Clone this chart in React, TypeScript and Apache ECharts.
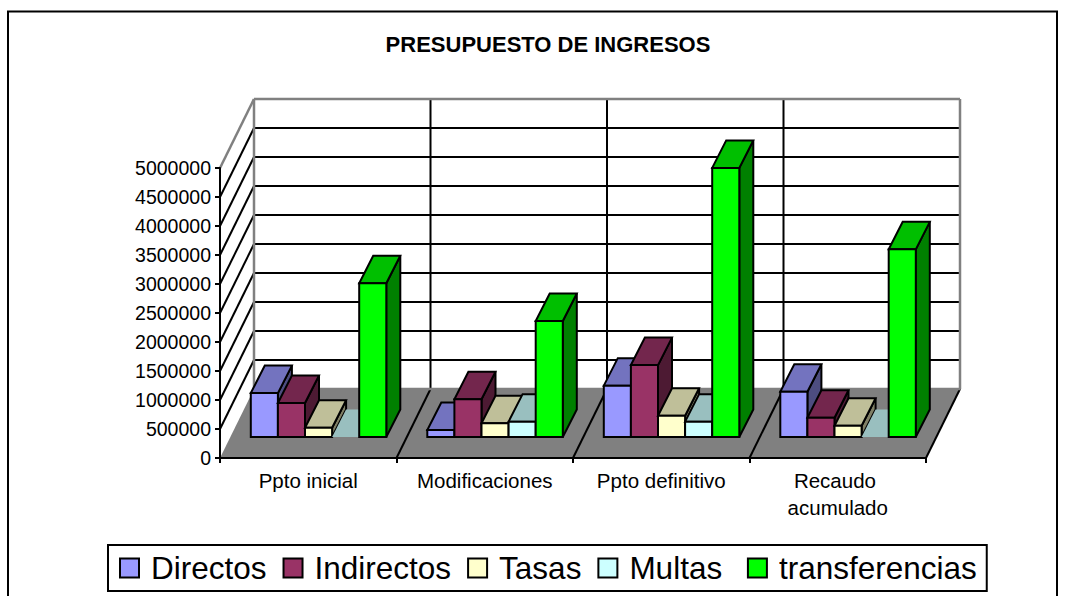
import React, { useEffect, useRef } from "react";
import * as echarts from "echarts";

const categories = ["Ppto inicial", "Modificaciones", "Ppto definitivo", "Recaudo acumulado"];
const directos = [757000, 120000, 885000, 780000];
const indirectos = [585000, 650000, 1240000, 333000];
const tasas = [160000, 235000, 367000, 195000];
const multas = [0, 265000, 265000, 0];
const transferencias = [2650000, 2000000, 4640000, 3235000];
const tickValues = [0, 500000, 1000000, 1500000, 2000000, 2500000, 3000000, 3500000, 4000000, 4500000, 5000000];

const seriesNames = ["Directos", "Indirectos", "Tasas", "Multas", "transferencias"];
const seriesValues = [directos, indirectos, tasas, multas, transferencias];
const frontColors = ["#9999FF", "#993366", "#FFFFCC", "#CCFFFF", "#00FF00"];
const topColors = ["#7373BF", "#73264D", "#BFBF99", "#99BFBF", "#00BF00"];
const sideColors = ["#4D4D80", "#4D1A33", "#808066", "#668080", "#008000"];

const WALL_DX = 34;
const WALL_DY = 69;
const FLOOR_DX = 10.3;
const FLOOR_DY = 21;
const BAR_W = 27.1;
const BAR_DX = 14;
const BAR_DY = 27.5;
const FONT = '"Liberation Sans", Arial, sans-serif';
const GRID = "#000000";
const WALL = "#808080";

function poly(points: number[][], fill: string, stroke: string | null, lineWidth = 2) {
  return {
    type: "polygon",
    shape: { points },
    style: { fill, stroke: stroke ?? "none", lineWidth, lineJoin: "miter" },
  };
}
function seg(a: number[], b: number[], stroke: string, lineWidth = 2) {
  return {
    type: "line",
    shape: { x1: a[0], y1: a[1], x2: b[0], y2: b[1] },
    style: { stroke, lineWidth },
  };
}

export default function App() {
  const ref = useRef<HTMLDivElement>(null);
  useEffect(() => {
    const chart = echarts.init(ref.current!, undefined, { renderer: "svg" });

    const wallSeries = {
      type: "custom",
      name: "walls",
      coordinateSystem: "cartesian2d",
      silent: true,
      z: 2,
      clip: false,
      data: [[0, 0]],
      renderItem: (_p: any, api: any) => {
        const band = api.size([1, 0])[0];
        const org = api.coord([0, 0]);
        const left = org[0] - band / 2;
        const base = org[1];
        const right = left + band * categories.length;
        const top = api.coord([0, tickValues[tickValues.length - 1]])[1];
        const children: any[] = [];
        children.push(
          poly(
            [[left + WALL_DX, top - WALL_DY], [right + WALL_DX, top - WALL_DY], [right + WALL_DX, base - WALL_DY], [left + WALL_DX, base - WALL_DY]],
            "#FFFFFF",
            null
          )
        );
        children.push(
          poly(
            [[left, base], [right, base], [right + WALL_DX, base - WALL_DY], [left + WALL_DX, base - WALL_DY]],
            WALL,
            null
          )
        );
        tickValues.forEach((v) => {
          const y = api.coord([0, v])[1];
          if (v > 0 && v < tickValues[tickValues.length - 1]) {
            children.push(seg([left + WALL_DX, y - WALL_DY], [right + WALL_DX, y - WALL_DY], GRID));
            children.push(seg([left, y], [left + WALL_DX, y - WALL_DY], GRID));
          }
        });
        categories.forEach((_c, i) => {
          if (i > 0) {
            const x = left + band * i;
            children.push(seg([x + WALL_DX, top - WALL_DY], [x + WALL_DX, base - WALL_DY], GRID));
          }
        });
        categories.forEach((_c, i) => {
          const x = left + band * (i + 1);
          children.push(seg([x, base], [x + WALL_DX, base - WALL_DY], GRID));
        });
        children.push(seg([left + WALL_DX, top - WALL_DY], [right + WALL_DX, top - WALL_DY], WALL, 2.5));
        children.push(seg([left, top], [left + WALL_DX, top - WALL_DY], WALL, 2.5));
        children.push(seg([left + WALL_DX, top - WALL_DY], [left + WALL_DX, base - WALL_DY], WALL, 2.5));
        children.push(seg([right + WALL_DX, top - WALL_DY], [right + WALL_DX, base - WALL_DY], WALL, 2.5));
        children.push(seg([left + WALL_DX, base - WALL_DY], [right + WALL_DX, base - WALL_DY], WALL, 2.5));
        return { type: "group", children };
      },
    };

    const barSeries = seriesNames.map((name, s) => ({
      type: "custom",
      name,
      coordinateSystem: "cartesian2d",
      z: 3 + s,
      clip: false,
      itemStyle: { color: frontColors[s] },
      data: seriesValues[s].map((v, i) => [i, v]),
      renderItem: (_p: any, api: any) => {
        const band = api.size([1, 0])[0];
        const c = api.value(0);
        const v = api.value(1);
        const zero = api.coord([c, 0]);
        const topPt = api.coord([c, v]);
        const groupW = BAR_W * seriesNames.length;
        const x0 = zero[0] - groupW / 2 + FLOOR_DX + s * BAR_W;
        const x1 = x0 + BAR_W;
        const yb = zero[1] - FLOOR_DY;
        const yt = topPt[1] - FLOOR_DY;
        const stroke = v === 0 ? null : "#000000";
        const children: any[] = [];
        if (v > 0) {
          children.push(poly([[x1, yb], [x1 + BAR_DX, yb - BAR_DY], [x1 + BAR_DX, yt - BAR_DY], [x1, yt]], sideColors[s], stroke));
        }
        children.push(poly([[x0, yt], [x1, yt], [x1 + BAR_DX, yt - BAR_DY], [x0 + BAR_DX, yt - BAR_DY]], topColors[s], stroke));
        if (v > 0) {
          children.push(poly([[x0, yb], [x1, yb], [x1, yt], [x0, yt]], frontColors[s], stroke));
        }
        return { type: "group", children };
      },
    }));

    chart.setOption({
      animation: false,
      backgroundColor: "#FFFFFF",
      textStyle: { fontFamily: FONT },
      title: {
        text: "PRESUPUESTO DE INGRESOS",
        left: 543,
        textAlign: "center",
        top: 28,
        textStyle: { fontFamily: FONT, fontSize: 22, fontWeight: "bold", color: "#000" },
      },
      grid: { left: 220, top: 168, width: 706, height: 290, containLabel: false },
      xAxis: {
        type: "category",
        data: categories,
        z: 20,
        axisLine: { lineStyle: { color: "#000", width: 2 } },
        axisTick: { show: true, length: 5, lineStyle: { color: "#000", width: 2 } },
        axisLabel: {
          interval: 0,
          color: "#000",
          fontFamily: FONT,
          fontSize: 20.5,
          margin: 9,
          lineHeight: 27,
          width: 150,
          overflow: "break",
        },
        splitLine: { show: false },
      },
      yAxis: {
        type: "value",
        min: 0,
        max: 5000000,
        interval: 500000,
        z: 20,
        axisLine: { show: true, lineStyle: { color: "#000", width: 2 } },
        axisTick: { show: true, length: 5, lineStyle: { color: "#000", width: 2 } },
        axisLabel: { color: "#000", fontFamily: FONT, fontSize: 19.5, margin: 9, formatter: (v: number) => String(v) },
        splitLine: { show: false },
      },
      legend: {
        left: 108,
        top: 545,
        orient: "horizontal",
        padding: [7, 10, 7, 11],
        itemGap: 16,
        itemWidth: 19,
        itemHeight: 19,
        borderColor: "#000",
        borderWidth: 2,
        backgroundColor: "#fff",
        formatter: (name: string) => (name === "Multas" ? name + "\u00a0" : name),
        textStyle: { fontFamily: FONT, fontSize: 31.5, color: "#000", padding: [0, 0, 0, 7] },
        data: seriesNames.map((name, s) => ({
          name,
          icon: "rect",
          itemStyle: { color: frontColors[s], borderColor: "#000", borderWidth: 2 },
        })),
      },
      graphic: [
        {
          type: "rect",
          silent: true,
          shape: { x: 8, y: 11.5, width: 1049, height: 620 },
          style: { fill: "none", stroke: "#000", lineWidth: 2 },
          z: 100,
        },
      ],
      series: [wallSeries, ...barSeries],
    } as any);
    return () => chart.dispose();
  }, []);
  return <div ref={ref} style={{ position: "absolute", left: 0, top: 0, width: 1066, height: 596 }} />;
}
